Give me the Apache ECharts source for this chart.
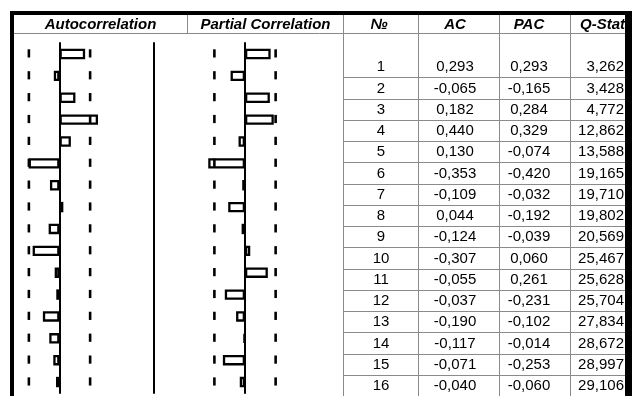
<!DOCTYPE html>
<html>
<head>
<meta charset="utf-8">
<script src="https://cdn.jsdelivr.net/npm/echarts@6/dist/echarts.min.js"></script>
<style>
  html, body { margin: 0; padding: 0; background: #fff; }
  #chart { width: 632px; height: 396px; }
</style>
</head>
<body>
<div id="chart"></div>
<script>
// Correlogram: lags, autocorrelations, partial autocorrelations, Ljung-Box Q
const lagLabels = ['1','2','3','4','5','6','7','8','9','10','11','12','13','14','15','16'];
const acValues  = [0.293, -0.065, 0.182, 0.440, 0.130, -0.353, -0.109, 0.044, -0.124, -0.307, -0.055, -0.037, -0.190, -0.117, -0.071, -0.040];
const pacValues = [0.293, -0.165, 0.284, 0.329, -0.074, -0.420, -0.032, -0.192, -0.039, 0.060, 0.261, -0.231, -0.102, -0.014, -0.253, -0.060];
const qStats    = [3.262, 3.428, 4.772, 12.862, 13.588, 19.165, 19.710, 19.802, 20.569, 25.467, 25.628, 25.704, 27.834, 28.672, 28.997, 29.106];
const confBound = 0.35;   // approx. 2/sqrt(T)
const panelTitles  = ['Autocorrelation', 'Partial Correlation'];
const tableHeaders = ['№', 'AC', 'PAC', 'Q-Stat'];

// ---- layout ----
const BAND = 21.87, BAR_TOP = 43.07;      // bar panels
const ROW = 21.42, ROW_TOP = 56.0;        // numeric table
const LINE_GRAY = '#8a8a8a';
const HEAD_FONT = 'italic bold 15px "Liberation Sans", Arial, sans-serif';
const CELL_FONT = '15px "Liberation Sans", Arial, sans-serif';

const fmt = v => v.toFixed(3).replace('.', ',');

function barAxis(gridIndex, extra) {
  return Object.assign({
    gridIndex, type: 'category', data: lagLabels, inverse: true,
    axisLine: { onZero: true, lineStyle: { color: '#000', width: 2 } },
    axisTick: { show: false }, axisLabel: { show: false }, splitLine: { show: false }
  }, extra || {});
}

function barSeries(values, xi, yi) {
  return {
    type: 'bar', xAxisIndex: xi, yAxisIndex: yi, data: values,
    barWidth: 10.4, silent: true, z: 2,
    itemStyle: { color: '#fff', borderColor: '#000', borderWidth: 2.3 }
  };
}

// short dash marks at the +/- confidence bound on every lag row
function boundSeries(xi, yi) {
  return {
    type: 'custom', xAxisIndex: xi, yAxisIndex: yi, silent: true, z: 3,
    data: lagLabels.map((_, i) => [0, i]), encode: { x: 0, y: 1 },
    renderItem: (params, api) => {
      const idx = api.value(1);
      const pl = api.coord([-confBound, idx]);
      const pr = api.coord([confBound, idx]);
      const cy = pl[1];
      return {
        type: 'group',
        children: [pl[0], pr[0]].map(x => ({
          type: 'line',
          shape: { x1: x, y1: cy - 4.7, x2: x, y2: cy + 3.5 },
          style: { stroke: '#000', lineWidth: 2.6, lineCap: 'butt' }
        }))
      };
    }
  };
}

const tableSeries = {
  type: 'custom', xAxisIndex: 2, yAxisIndex: 3, silent: true, z: 4,
  data: lagLabels.map((_, i) => [0, i]), encode: { x: 0, y: 1 },
  renderItem: (params, api) => {
    const i = api.value(1);
    const cy = api.coord([0, i])[1];
    const h = api.size([0, 1])[1];
    const x0 = params.coordSys.x;
    const w = params.coordSys.width;
    const cells = [
      [lagLabels[i], x0 + 38, 'center'],
      [fmt(acValues[i]), x0 + 112, 'center'],
      [fmt(pacValues[i]), x0 + 186, 'center'],
      [fmt(qStats[i]), x0 + w - 1, 'right']
    ];
    const children = cells.map(([t, x, a]) => ({
      type: 'text', x: x, y: cy + 0.5,
      style: { text: t, font: CELL_FONT, fill: '#000', align: a, verticalAlign: 'middle' }
    }));
    const ly = Math.round(cy + h / 2) + 0.5;
    children.push({
      type: 'line', shape: { x1: x0, y1: ly, x2: x0 + w, y2: ly },
      style: { stroke: LINE_GRAY, lineWidth: 1 }
    });
    return { type: 'group', children };
  }
};

// frame, header rules and header captions
const vLine = (x, y1, y2) => ({
  type: 'line', shape: { x1: x, y1, x2: x, y2 }, style: { stroke: LINE_GRAY, lineWidth: 1 }, z: 5
});
const headText = (t, x, align) => ({
  type: 'text', x, y: 24.5, z: 6,
  style: { text: t, font: HEAD_FONT, fill: '#000', align: align || 'center', verticalAlign: 'middle' }
});

const graphics = [
  vLine(187.5, 15, 34),
  vLine(343.5, 15, 396),
  vLine(418.5, 15, 396),
  vLine(499.5, 15, 396),
  vLine(570.5, 15, 396),
  { type: 'line', shape: { x1: 14, y1: 33.5, x2: 625, y2: 33.5 }, style: { stroke: LINE_GRAY, lineWidth: 1 }, z: 5 },
  headText(panelTitles[0], 100.5),
  headText(panelTitles[1], 265.5),
  headText(tableHeaders[0], 379),
  headText(tableHeaders[1], 455),
  headText(tableHeaders[2], 529),
  headText(tableHeaders[3], 580, 'left'),
  { type: 'rect', shape: { x: 10, y: 11, width: 622, height: 4 }, style: { fill: '#000' }, z: 50 },
  { type: 'rect', shape: { x: 10, y: 11, width: 4, height: 385 }, style: { fill: '#000' }, z: 50 },
  { type: 'rect', shape: { x: 625, y: 11, width: 7, height: 385 }, style: { fill: '#000' }, z: 50 }
];

const chart = echarts.init(document.getElementById('chart'));
chart.setOption({
  animation: false,
  backgroundColor: '#fff',
  grid: [
    { left: 14, width: 140, top: BAR_TOP, height: BAND * 16 },
    { left: 187, width: 156, top: BAR_TOP, height: BAND * 16 },
    { left: 343, width: 282, top: ROW_TOP, height: ROW * 16 }
  ],
  xAxis: [
    { gridIndex: 0, type: 'value', min: -0.52, max: 1.08, show: false },
    { gridIndex: 1, type: 'value', min: -0.663, max: 1.12, show: false },
    { gridIndex: 2, type: 'value', min: 0, max: 1, show: false }
  ],
  yAxis: [
    barAxis(0),
    barAxis(0, { position: 'right', axisLine: { onZero: false, lineStyle: { color: '#000', width: 2 } } }),
    barAxis(1),
    { gridIndex: 2, type: 'category', data: lagLabels, inverse: true, show: false }
  ],
  series: [
    barSeries(acValues, 0, 0),
    barSeries(pacValues, 1, 2),
    boundSeries(0, 0),
    boundSeries(1, 2),
    tableSeries
  ],
  graphic: { elements: graphics }
});
</script>
</body>
</html>
